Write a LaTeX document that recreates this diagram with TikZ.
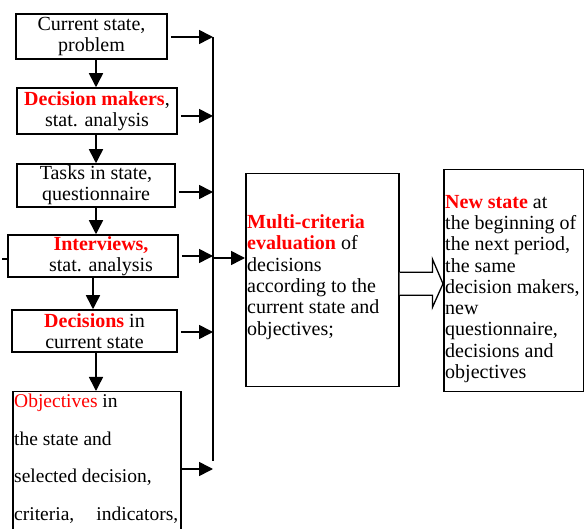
\documentclass[tikz,border=0pt]{standalone}
\usepackage{fontspec}
\setmainfont{Liberation Serif}
\usetikzlibrary{arrows.meta,calc}
\definecolor{hl}{RGB}{255,0,0}
\begin{document}
\begin{tikzpicture}[x=1pt,y=-1pt,
  box/.style={draw,line width=1.5pt,inner sep=0pt,align=center,
    font=\fontsize{20}{21}\selectfont},
  body/.style={inner sep=0pt,align=left},
  arr/.style={line width=1.6pt,-{Triangle[length=14pt,width=14pt]}}]
\useasboundingbox (0,0) rectangle (584,529);
\clip (0,0) rectangle (584,529);

% left column of steps
\node[box,minimum width=151pt,minimum height=45pt] (n1) at (91.5,36.5)
  {Current state,\\problem};
\node[box,minimum width=160pt,minimum height=46pt] (n2) at (97,111)
  {\textcolor{hl}{\textbf{Decision makers}},\\stat. analysis};
\node[box,minimum width=158pt,minimum height=43pt] (n3) at (96,185.5)
  {Tasks in state,\\questionnaire};
\node[box,minimum width=170pt,minimum height=42pt] (n4) at (93,256) {};
\node[box,draw=none] (t4) at (101,256)
  {\textcolor{hl}{\textbf{Interviews,}}\\stat. analysis};
\node[box,minimum width=165pt,minimum height=42pt] (n5) at (94.5,331)
  {\textcolor{hl}{\textbf{Decisions}} in\\current state};
\node[box,anchor=north west,minimum width=168pt,minimum height=160pt] (n6) at (12,391) {};
\node[body,anchor=north west,font=\fontsize{19.5}{37.5}\selectfont] (t6) at (14,394)
  {\textcolor{hl}{Objectives} in\\the state and\\selected decision,\\
   \makebox[164pt][s]{criteria,\ indicators,}};

% evaluation and next state
\node[box,anchor=north west,minimum width=153pt,minimum height=213pt] (m) at (245,173) {};
\node[body,anchor=west,font=\fontsize{20}{21.4}\selectfont] (tm) at (247,277)
  {\textcolor{hl}{\textbf{Multi-criteria}}\\\textcolor{hl}{\textbf{evaluation}} of\\decisions\\according to the\\current state and\\objectives;};
\node[box,anchor=north west,minimum width=140pt,minimum height=222pt] (ns) at (443,169) {};
\node[body,anchor=west,font=\fontsize{20}{21.25}\selectfont] (tns) at (445,289)
  {\textcolor{hl}{\textbf{New state}} at\\the beginning of\\the next period,\\the same\\decision makers,\\new\\questionnaire,\\decisions and\\objectives};

% downward arrows
\coordinate (ax) at (96,0);
\coordinate (bx) at (93,0);
\draw[arr] (ax |- n1.south) -- (ax |- n2.north);
\draw[arr] (ax |- n2.south) -- (ax |- n3.north);
\draw[arr] (ax |- n3.south) -- (ax |- n4.north);
\draw[arr] (bx |- n4.south) -- (bx |- n5.north);
\draw[arr] (ax |- n5.south) -- (ax |- n6.north);

% collecting bus
\coordinate (b1) at (213,37);
\coordinate (b2) at (213,116);
\coordinate (b3) at (213,192);
\coordinate (b4) at (213,256);
\coordinate (b5) at (213,332);
\coordinate (b6) at (213,469);
\coordinate (bend) at (213,461);
\coordinate (bm) at (213,258);
\coordinate (s1) at ($(n1.east)+(3,0)$);
\coordinate (s2) at ($(n2.east)+(3,0)$);
\coordinate (s3) at ($(n3.east)+(3,0)$);
\coordinate (s4) at ($(n4.east)+(3,0)$);
\coordinate (s5) at ($(n5.east)+(3,0)$);
\draw[line width=1.6pt] (b1) -- (bend);
\draw[arr] (s1 |- b1) -- (b1);
\draw[arr] (s2 |- b2) -- (b2);
\draw[arr] (s3 |- b3) -- (b3);
\draw[arr] (s4 |- b4) -- (b4);
\draw[arr] (s5 |- b5) -- (b5);
\draw[arr] (n6.east |- b6) -- (b6);
\draw[arr] (bm) -- (m.west |- bm);

% stub entering the interview step
\coordinate (lin) at (2,259);
\draw[line width=1.6pt] (lin) -- (n4.west |- lin);

% block arrow to the next state
\draw[line width=1.3pt,fill=white]
  ($(m.east)+(0,-8)$) -- ++(33,0) -- ++(0,-13) -- ($(ns.west)+(0,3)$)
  -- ($(m.east)+(33,27)$) -- ++(0,-12) -- ($(m.east)+(0,15)$);
\end{tikzpicture}
\end{document}
